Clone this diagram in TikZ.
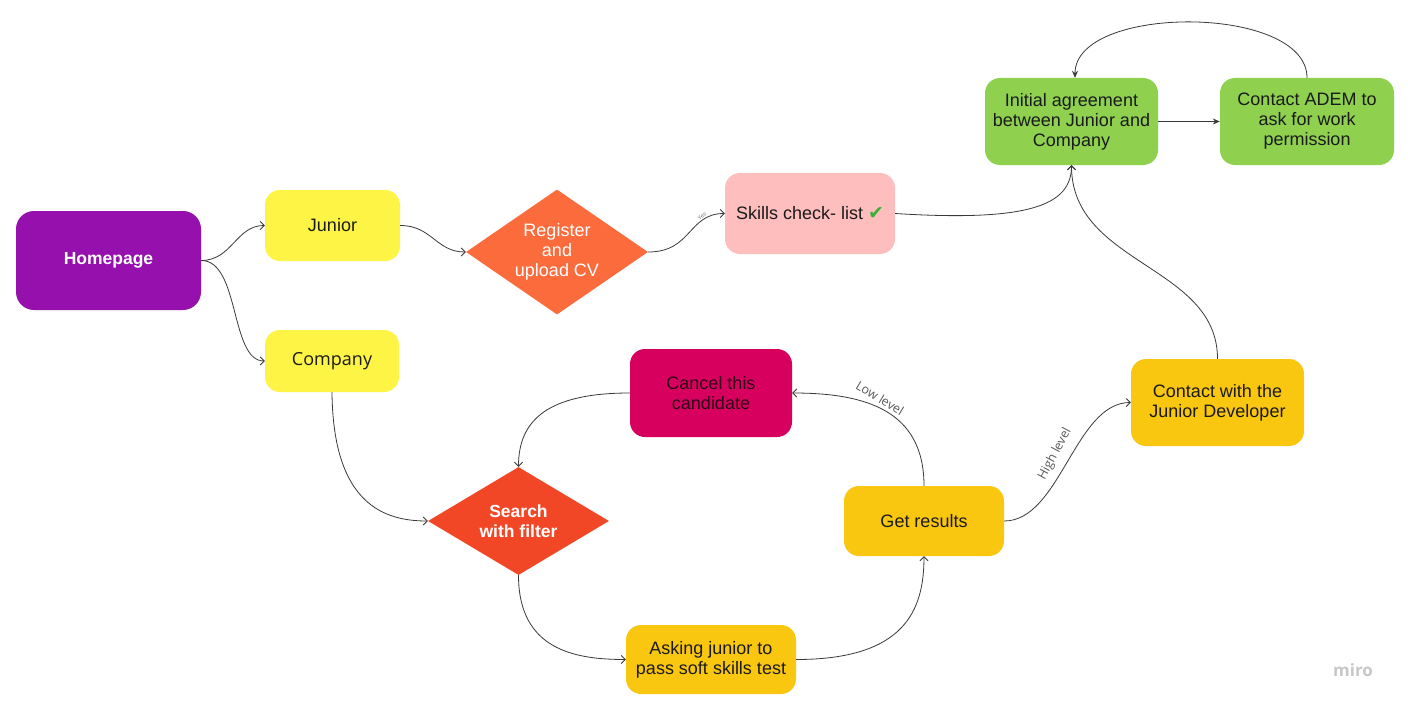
\documentclass[tikz,border=0pt]{standalone}
\usepackage{fontspec}
\setmainfont{Liberation Sans}
\newfontfamily\opensans{Open Sans}
\newfontfamily\symfont{DejaVu Sans}
\usetikzlibrary{shapes.geometric,arrows.meta}

\definecolor{purplebox}{HTML}{9510AC}
\definecolor{yellowbox}{HTML}{FEF445}
\definecolor{orangedia}{HTML}{FB6B3C}
\definecolor{reddia}{HTML}{F24726}
\definecolor{pinkbox}{HTML}{FFBEBE}
\definecolor{greenbox}{HTML}{8FD14F}
\definecolor{amberbox}{HTML}{FAC710}
\definecolor{magentabox}{HTML}{D8005F}
\definecolor{ink}{HTML}{1A1A1A}
\definecolor{wire}{HTML}{3A3A3A}
\definecolor{tick}{HTML}{34B034}

\tikzset{
  box/.style={rectangle, rounded corners=15pt, draw=none, align=center,
    inner sep=0pt, text=ink, font=\fontsize{18}{20}\selectfont},
  dia/.style={diamond, draw=none, inner sep=0pt},
  diatext/.style={align=center, inner sep=0pt, text=white,
    font=\bfseries\fontsize{17.5}{20}\selectfont},
  wireopen/.style={draw=wire, line width=0.8pt, -{Straight Barb[length=4pt,width=8pt]}},
  wirefill/.style={draw=wire, line width=0.8pt, -{Stealth[length=7pt,width=6pt]}},
  tag/.style={text=black!65, font=\opensans\fontsize{12.5}{14}\selectfont, inner sep=0pt}
}

\begin{document}
\begin{tikzpicture}[x=1pt,y=-1pt]
  \useasboundingbox[fill=white] (0,0) rectangle (1408,709);

  % entry point and the two user roles
  \node[box, fill=purplebox, text=white, font=\bfseries\fontsize{17.5}{20}\selectfont,
        rounded corners=18pt, minimum width=185, minimum height=99]
        (home) at (108.5,260.5) {Homepage};
  \node[box, fill=yellowbox, minimum width=135, minimum height=71] (junior) at (332.5,225.5) {Junior};
  \node[box, fill=yellowbox, minimum width=134, minimum height=62,
        font=\opensans\fontsize{18}{20}\selectfont] (company) at (332,361) {Company};

  % junior branch
  \node[dia, fill=orangedia, minimum width=182, minimum height=125] (register) at (557,252) {};
  \node[diatext, font=\fontsize{18}{20}\selectfont] (registertext) at (register.center)
        {Register\\and\\upload CV};
  \node[box, fill=pinkbox, minimum width=170, minimum height=81] (skills) at (810,213.5)
        {Skills check- list \textcolor{tick}{\symfont\fontsize{19}{20}\selectfont ✔}};

  % agreement and permission
  \node[box, fill=greenbox, minimum width=173, minimum height=87] (agree) at (1071.5,121.5)
        {Initial agreement\\between Junior and\\Company};
  \node[box, fill=greenbox, minimum width=174, minimum height=87] (adem) at (1307,121.5)
        {Contact ADEM to\\ask for work\\permission};

  % company branch
  \node[dia, fill=reddia, minimum width=181, minimum height=108] (search) at (518.5,521) {};
  \node[diatext] (searchtext) at (search.center) {Search\\with filter};
  \node[box, fill=amberbox, minimum width=170, minimum height=69] (asking) at (711,659.5)
        {Asking junior to\\pass soft skills test};
  \node[box, fill=amberbox, minimum width=160, minimum height=70] (results) at (924,521)
        {Get results};
  \node[box, fill=magentabox, text=black!78!magentabox, minimum width=162, minimum height=88]
        (cancel) at (711,393) {Cancel this\\candidate};
  \node[box, fill=amberbox, minimum width=173, minimum height=87] (contact) at (1217.5,402.5)
        {Contact with the\\Junior Developer};

  % connectors from the homepage
  \draw[wireopen] (home.east) .. controls (232,260.5) and (236,225.5) .. (junior.west);
  \draw[wireopen] (home.east) .. controls (240,260.5) and (230,361) .. (company.west);

  % junior flow
  \draw[wireopen] (junior.east) .. controls (432,225.5) and (436,252) .. (register.west);
  \draw[wireopen] (register.east) .. controls (692,252) and (688,213.5) .. (skills.west);
  \node[text=black!55, font=\fontsize{5.5}{6}\selectfont, inner sep=0pt, rotate=38]
        (yes) at (702,216) {Yes};
  \draw[wireopen] (skills.east) .. controls (1030,222) and (1071.5,205) .. (agree.south);

  % agreement loop
  \draw[wirefill] (agree.east) -- (adem.west);
  \draw[wirefill] (adem.north) .. controls (1307,4) and (1075,4) .. (agree.north -| 1075,0);

  % company flow
  \draw[wireopen] (company.south) .. controls (333,505) and (385,521) .. (search.west);
  \draw[wireopen] (search.south) .. controls (518.5,650) and (575,659.5) .. (asking.west);
  \draw[wireopen] (asking.east) .. controls (905,659.5) and (924,610) .. (results.south);
  \draw[wireopen] (results.north) .. controls (924,410) and (865,393) .. (cancel.east);
  \node[tag, rotate=-31] (low) at (880,398) {Low level};
  \draw[wireopen] (cancel.west) .. controls (548,393) and (518.5,420) .. (search.north);
  \draw[wireopen] (results.east) .. controls (1060,521) and (1075,402.5) .. (contact.west);
  \node[tag, rotate=62] (high) at (1055,454) {High level};
  \draw[wireopen] (contact.north) .. controls (1217.5,265) and (1071.5,265) .. (agree.south);

  % watermark
  \node[text=black!22, font=\opensans\bfseries\fontsize{17}{20}\selectfont, inner sep=0pt]
        (miro) at (1353,670) {miro};
\end{tikzpicture}
\end{document}
